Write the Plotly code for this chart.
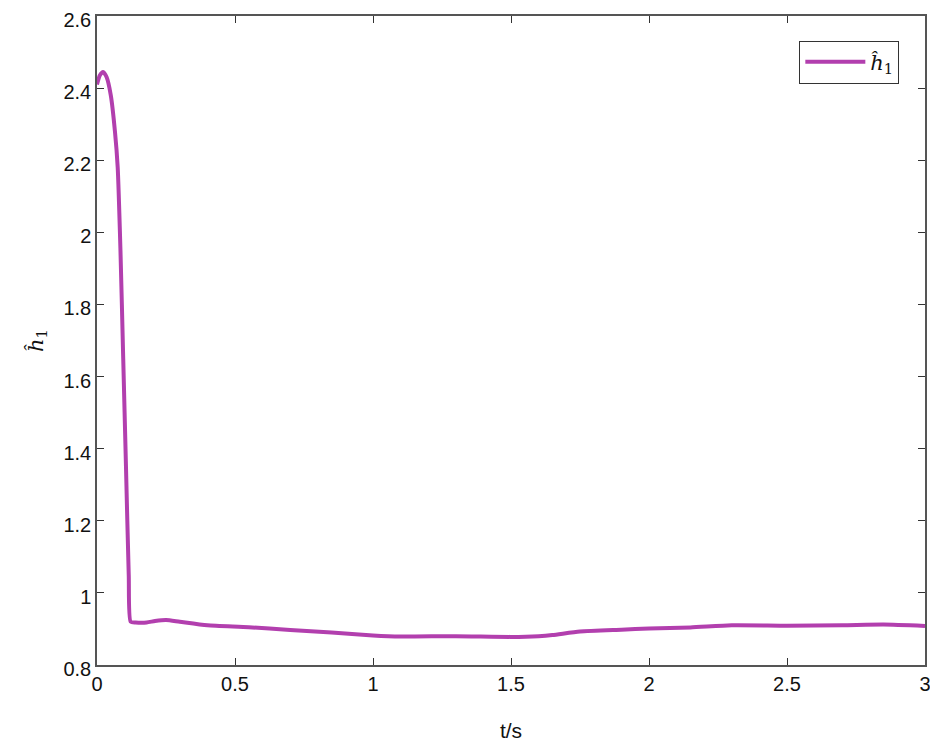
import plotly.graph_objects as go

# estimated from the reference figure
t = [0.0, 0.01, 0.022, 0.035, 0.05, 0.065, 0.075, 0.085, 0.095, 0.105, 0.115, 0.122,
     0.14, 0.18, 0.21, 0.25, 0.3, 0.4, 0.55, 0.7, 0.85, 1.0, 1.1, 1.3, 1.5, 1.6,
     1.65, 1.75, 1.9, 2.0, 2.15, 2.3, 2.5, 2.7, 2.85, 3.0]
h1 = [2.41, 2.435, 2.445, 2.43, 2.38, 2.28, 2.18, 1.95, 1.65, 1.35, 1.05, 0.92,
      0.918, 0.918, 0.922, 0.925, 0.92, 0.91, 0.905, 0.897, 0.89, 0.882, 0.879, 0.88,
      0.878, 0.88, 0.883, 0.893, 0.898, 0.901, 0.904, 0.91, 0.909, 0.91, 0.912, 0.908]

x_ticks = [0, 0.5, 1, 1.5, 2, 2.5, 3]
y_ticks = [0.8, 1.0, 1.2, 1.4, 1.6, 1.8, 2.0, 2.2, 2.4, 2.6]
y_labels = ["0.8", "1", "1.2", "1.4", "1.6", "1.8", "2", "2.2", "2.4", "2.6"]

fig = go.Figure()
fig.add_trace(
    go.Scatter(
        x=t,
        y=h1,
        mode="lines",
        name="<i>ĥ</i><sub>1</sub>",
        line={"width": 4, "color": "#B23FAE", "shape": "spline", "smoothing": 0.6},
        showlegend=True,
    )
)

axis_common = dict(
    showline=True,
    mirror="ticks",
    linecolor="#555555",
    linewidth=1.5,
    ticks="inside",
    ticklen=7,
    tickcolor="#333333",
    showgrid=False,
    zeroline=False,
    automargin=False,
    ticklabeloverflow="allow",
    tickfont={"size": 20, "color": "#111111"},
)

fig.update_xaxes(
    range=[0, 3],
    tickvals=x_ticks,
    ticktext=[f"{v:g}" for v in x_ticks],
    title={"text": "t/s", "font": {"size": 21, "color": "#111111"}, "standoff": 30},
    **axis_common,
)
fig.update_yaxes(
    range=[0.8, 2.6],
    tickvals=y_ticks,
    ticktext=y_labels,
    ticklabelshift=4,
    title={"text": "<i>ĥ</i><sub>1</sub>", "font": {"size": 21, "family": "DejaVu Serif", "color": "#111111"}, "standoff": 14},
    **axis_common,
)

# page body has an 8px margin, so the figure is shifted by 8px
fig.update_layout(
    width=930,
    height=744,
    plot_bgcolor="white",
    paper_bgcolor="white",
    showlegend=True,
    font={"family": "Liberation Sans, Arial, sans-serif"},
    margin={"l": 89, "r": 13, "t": 8, "b": 87},
    legend={
        "x": 0.969,
        "y": 0.962,
        "xanchor": "right",
        "yanchor": "top",
        "bordercolor": "#333333",
        "borderwidth": 1,
        "bgcolor": "white",
        "font": {"size": 21, "family": "DejaVu Serif", "color": "#111111"},
        "itemwidth": 60,
    },
)

fig.write_html("out.html")
